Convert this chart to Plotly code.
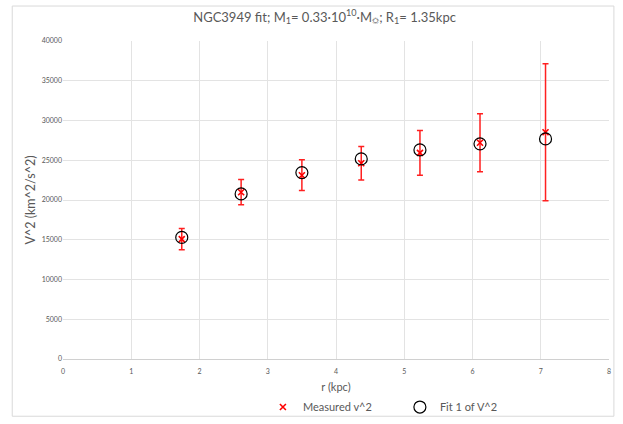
import plotly.graph_objects as go

r_kpc = [1.74, 2.61, 3.50, 4.37, 5.23, 6.11, 7.07]
v2_measured = [15080, 20980, 23120, 24625, 25925, 27200, 28520]
v2_error = [1340, 1590, 1930, 2095, 2805, 3660, 8620]
v2_fit = [15290, 20770, 23450, 25170, 26300, 27060, 27680]

x_ticks = [0, 1, 2, 3, 4, 5, 6, 7, 8]
y_ticks = [0, 5000, 10000, 15000, 20000, 25000, 30000, 35000, 40000]

FONT = "Lato, 'Liberation Sans', sans-serif"
GRAY = "#595959"

fig = go.Figure()
fig.add_trace(go.Scatter(
    x=r_kpc, y=v2_measured, mode="markers", name="Measured v^2",
    marker=dict(symbol="x-thin", size=6, color="#ff0000",
                line=dict(width=1.6, color="#ff0000")),
    error_y=dict(type="data", array=v2_error, visible=True,
                 color="#ff2020", thickness=1.5, width=3),
))
fig.add_trace(go.Scatter(
    x=r_kpc, y=v2_fit, mode="markers", name="Fit 1 of V^2",
    marker=dict(symbol="circle-open", size=12, color="#000000",
                line=dict(width=1.2, color="#000000")),
))

fig.update_layout(
    width=623, height=424,
    margin=dict(l=63, r=14, t=41, b=65),
    paper_bgcolor="white", plot_bgcolor="white",
    font=dict(family=FONT, color=GRAY),
    title=dict(
        text="NGC3949 fit; M<sub>1</sub>= 0.33·10<sup>10</sup>·M<sub>☼</sub>; R<sub>1</sub>= 1.35kpc",
        x=0.521, xanchor="center", y=0.96, yanchor="middle",
        font=dict(size=13, color=GRAY, family=FONT)),
    xaxis=dict(range=[0, 8], tickvals=x_ticks, ticktext=[str(t) for t in x_ticks],
               automargin=False, ticklabelstandoff=6,
               showgrid=True, gridcolor="#e3e3e3", gridwidth=1,
               showline=True, linecolor="#d0d0d0", linewidth=1,
               zeroline=False, ticks="", tickfont=dict(size=7, color=GRAY),
               title=dict(text="r (kpc)", font=dict(size=11, color=GRAY), standoff=9)),
    yaxis=dict(range=[0, 40000], tickvals=y_ticks, ticktext=[str(t) for t in y_ticks],
               automargin=False,
               showgrid=True, gridcolor="#e3e3e3", gridwidth=1,
               showline=False, zeroline=False, ticks="",
               tickfont=dict(size=7, color=GRAY),
               title=dict(text="V^2 (km^2/s^2)", font=dict(size=12.5, color=GRAY), standoff=3)),
    legend=dict(orientation="h", xref="container", yref="container",
                x=0.422, xanchor="left", y=0.04, yanchor="middle",
                font=dict(size=11, color=GRAY), itemwidth=30,
                entrywidth=92, entrywidthmode="pixels",
                bgcolor="rgba(0,0,0,0)"),
    showlegend=True,
)

fig.add_shape(type="rect", xref="paper", yref="paper",
              x0=-0.093, x1=1.009, y0=-0.18, y1=1.11,
              line=dict(color="#d9d9d9", width=1), layer="below")

fig.write_html("out.html", config={"displayModeBar": False},
               post_script="document.body.style.margin='0';document.body.style.padding='0';")
